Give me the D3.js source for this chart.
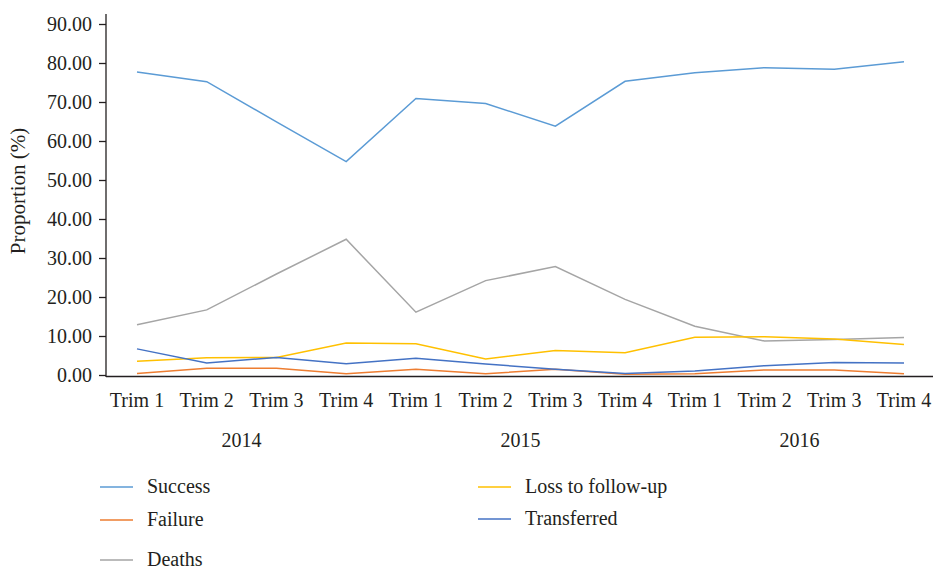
<!DOCTYPE html>
<html>
<head>
<meta charset="utf-8">
<script src="https://cdn.jsdelivr.net/npm/d3@7"></script>
<style>
  body { margin: 0; background: #fff; }
  text { font-family: "Liberation Serif", "Times New Roman", serif; fill: #231f20; }
</style>
</head>
<body>
<svg id="chart" width="936" height="569"></svg>
<script>
var quarters = ["Trim 1", "Trim 2", "Trim 3", "Trim 4",
                "Trim 1", "Trim 2", "Trim 3", "Trim 4",
                "Trim 1", "Trim 2", "Trim 3", "Trim 4"];
var years = ["2014", "2015", "2016"];
var yTicks = [0, 10, 20, 30, 40, 50, 60, 70, 80, 90];

var success     = [77.7, 75.2, 64.9, 54.7, 70.9, 69.6, 63.8, 75.3, 77.5, 78.8, 78.4, 80.3];
var failure     = [0.4, 1.7, 1.7, 0.3, 1.5, 0.3, 1.5, 0.2, 0.3, 1.3, 1.3, 0.3];
var deaths      = [12.9, 16.7, 25.9, 34.8, 16.1, 24.2, 27.8, 19.4, 12.5, 8.7, 9.1, 9.6];
var lossFollow  = [3.5, 4.4, 4.5, 8.2, 8.0, 4.1, 6.3, 5.7, 9.7, 9.8, 9.2, 7.8];
var transferred = [6.7, 3.1, 4.5, 2.9, 4.3, 2.8, 1.5, 0.4, 1.0, 2.4, 3.2, 3.1];

var seriesNames  = ["Success", "Failure", "Deaths", "Loss to follow-up", "Transferred"];
var seriesValues = [success, failure, deaths, lossFollow, transferred];
var colors = ["#5b9bd5", "#ed7d31", "#a5a5a5", "#ffc000", "#4472c4"];

var svg = d3.select("#chart");

var x = d3.scalePoint()
    .domain(d3.range(quarters.length))
    .range([137, 904]);

var y = d3.scaleLinear()
    .domain([0, 90])
    .range([375, 24]);

// y axis
var yAxis = svg.append("g")
    .attr("transform", "translate(106,0)")
    .call(d3.axisLeft(y).tickValues(yTicks).tickSize(7).tickPadding(7)
      .tickFormat(function(d) { return d3.format(".2f")(d); }));
yAxis.select(".domain").attr("d", "M0,14V377").attr("stroke", "#231f20").attr("stroke-width", 1.3);
yAxis.selectAll(".tick line").attr("stroke", "#231f20").attr("stroke-width", 1.3);
yAxis.selectAll(".tick text")
    .style("font-family", "'Liberation Serif', serif")
    .style("font-size", "20px")
    .attr("fill", "#231f20");

// x axis line
svg.append("line")
    .attr("x1", 106).attr("x2", 933)
    .attr("y1", 376.5).attr("y2", 376.5)
    .attr("stroke", "#231f20")
    .attr("stroke-width", 1.5);

svg.append("g").selectAll("text")
  .data(quarters)
  .enter().append("text")
    .attr("x", function(d, i) { return x(i); })
    .attr("y", 407)
    .attr("text-anchor", "middle")
    .style("font-size", "20px")
    .text(function(d) { return d; });

svg.append("g").selectAll("text")
  .data(years)
  .enter().append("text")
    .attr("x", function(d, i) { return (x(i * 4) + x(i * 4 + 3)) / 2; })
    .attr("y", 447)
    .attr("text-anchor", "middle")
    .style("font-size", "20px")
    .text(function(d) { return d; });

svg.append("text")
    .attr("transform", "translate(25,191) rotate(-90)")
    .attr("text-anchor", "middle")
    .style("font-size", "21px")
    .text("Proportion (%)");

// lines
var line = d3.line()
    .x(function(d, i) { return x(i); })
    .y(function(d) { return y(d); });

svg.append("g").selectAll("path")
  .data(seriesValues)
  .enter().append("path")
    .attr("d", line)
    .attr("fill", "none")
    .attr("stroke", function(d, i) { return colors[i]; })
    .attr("stroke-width", 1.5);

// legend
var legendPos = [[100, 487], [100, 520], [100, 560], [478, 487], [478, 519]];

var legend = svg.append("g").selectAll("g")
  .data(seriesNames)
  .enter().append("g")
    .attr("transform", function(d, i) { return "translate(" + legendPos[i][0] + "," + legendPos[i][1] + ")"; });

legend.append("line")
    .attr("x1", 0).attr("x2", 33)
    .attr("stroke", function(d, i) { return colors[i]; })
    .attr("stroke-width", 1.4);

legend.append("text")
    .attr("x", 47)
    .attr("y", 6)
    .style("font-size", "20px")
    .text(function(d) { return d; });
</script>
</body>
</html>
